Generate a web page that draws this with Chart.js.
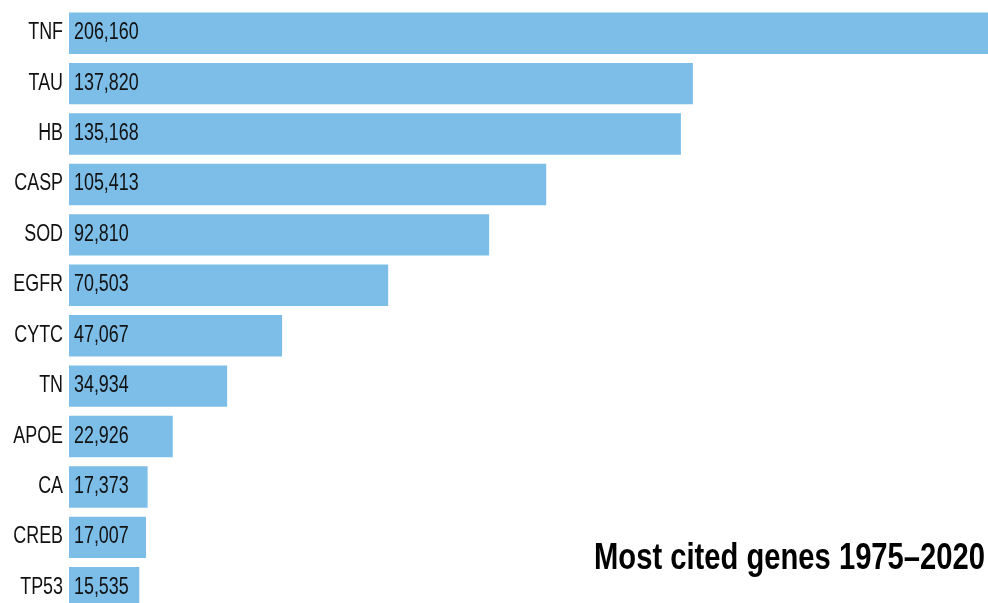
<!DOCTYPE html>
<html>
<head>
<meta charset="utf-8">
<script src="https://cdn.jsdelivr.net/npm/chart.js@4.4.1/dist/chart.umd.min.js"></script>
<style>
  html, body { margin: 0; padding: 0; background: #fff; overflow: hidden; }
  #wrap { width: 988px; height: 603px; overflow: hidden; }
</style>
</head>
<body>
<div id="wrap">
  <canvas id="genesChart" width="988" height="613"></canvas>
</div>
<script>
// data
const genes = ['TNF', 'TAU', 'HB', 'CASP', 'SOD', 'EGFR', 'CYTC', 'TN', 'APOE', 'CA', 'CREB', 'TP53'];
const citations = [206160, 137820, 135168, 105413, 92810, 70503, 47067, 34934, 22926, 17373, 17007, 15535];
const chartTitle = 'Most cited genes 1975–2020';

const textFont = '"Liberation Sans", Arial, sans-serif';
const squeeze = 0.73; // the reference type is very condensed

// draws text squeezed horizontally, anchored at x
function drawNarrow(ctx, text, x, y, align, sx) {
  ctx.save();
  ctx.translate(x, y);
  ctx.scale(sx, 1);
  ctx.textAlign = align;
  ctx.fillText(text, 0, 0);
  ctx.restore();
}

// gene names, counts inside the bars and the title
const textLayer = {
  id: 'textLayer',
  afterDraw(chart) {
    const ctx = chart.ctx;
    const meta = chart.getDatasetMeta(0);
    const yScale = chart.scales.y;
    ctx.save();
    ctx.fillStyle = '#111';
    ctx.textBaseline = 'alphabetic';
    ctx.font = '24.5px ' + textFont;
    chart.data.labels.forEach(function (name, i) {
      const y = yScale.getPixelForTick(i) + 6;
      drawNarrow(ctx, name, chart.chartArea.left - 6, y, 'right', squeeze);
    });
    meta.data.forEach(function (bar, i) {
      drawNarrow(ctx, citations[i].toLocaleString('en-US'), bar.base + 5, bar.y + 6, 'left', squeeze);
    });

    ctx.fillStyle = '#000';
    ctx.font = 'bold 36px ' + textFont;
    const w = ctx.measureText(chartTitle).width;
    drawNarrow(ctx, chartTitle, 985, 569, 'right', 391 / w);
    ctx.restore();
  }
};

new Chart(document.getElementById('genesChart'), {
  type: 'bar',
  data: {
    labels: genes,
    datasets: [{
      data: citations,
      backgroundColor: '#7dbee9',
      borderWidth: 0,
      barPercentage: 0.82,
      categoryPercentage: 1
    }]
  },
  options: {
    indexAxis: 'y',
    responsive: false,
    animation: false,
    layout: { padding: { left: 0, right: 0, top: 8, bottom: 0 } },
    plugins: {
      legend: { display: false },
      tooltip: { enabled: false }
    },
    scales: {
      x: {
        display: false,
        min: 0,
        max: 203000
      },
      y: {
        afterFit: function (scale) {
          scale.width = 69;
          scale.paddingTop = 0;
          scale.paddingBottom = 0;
        },
        grid: { display: false, drawTicks: false },
        border: { display: false },
        ticks: { display: false }
      }
    }
  },
  plugins: [textLayer]
});
</script>
</body>
</html>
